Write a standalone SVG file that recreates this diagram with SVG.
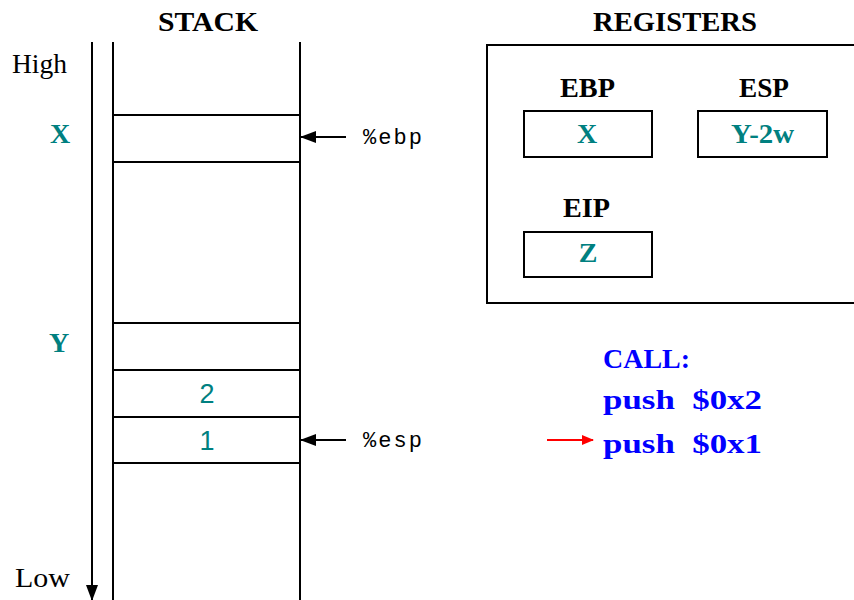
<svg xmlns="http://www.w3.org/2000/svg" width="854" height="600" viewBox="0 0 854 600">
<style>
.ln{stroke:#000;stroke-width:2;fill:none}
.bx{stroke:#000;stroke-width:2;fill:#fff}
.hd{font-family:"Liberation Serif",serif;font-weight:bold;font-size:28px;fill:#000}
.tl{font-family:"Liberation Serif",serif;font-weight:bold;font-size:28px;fill:#008080}
.rg{font-family:"Liberation Serif",serif;font-size:28px;fill:#000}
.num{font-family:"Liberation Sans",sans-serif;font-size:27px;fill:#008080}
.mono{font-family:"Liberation Mono",monospace;font-size:22px;fill:#000}
.code{font-family:"Liberation Serif",serif;font-weight:bold;font-size:28px;fill:#0000ff}
</style>
<defs>
<marker id="ah" markerWidth="16" markerHeight="12" refX="15" refY="6" orient="auto" markerUnits="userSpaceOnUse">
<path d="M0,0 L16,6 L0,12 z" fill="#000"/>
</marker>
<marker id="ahr" markerWidth="12" markerHeight="10" refX="11" refY="5" orient="auto" markerUnits="userSpaceOnUse">
<path d="M0,0 L12,5 L0,10 z" fill="#ff0000"/>
</marker>
</defs>
<rect width="854" height="600" fill="#fff"/>

<g id="stack">
<text class="hd" x="158" y="31" textLength="100" lengthAdjust="spacingAndGlyphs">STACK</text>
<line class="ln" x1="113" y1="42" x2="113" y2="600"/>
<line class="ln" x1="300" y1="42" x2="300" y2="600"/>
<line class="ln" x1="113" y1="115" x2="300" y2="115"/>
<line class="ln" x1="113" y1="162" x2="300" y2="162"/>
<line class="ln" x1="113" y1="323" x2="300" y2="323"/>
<line class="ln" x1="113" y1="370" x2="300" y2="370"/>
<line class="ln" x1="113" y1="417" x2="300" y2="417"/>
<line class="ln" x1="113" y1="463" x2="300" y2="463"/>
<text class="num" x="207" y="403" text-anchor="middle">2</text>
<text class="num" x="207" y="450" text-anchor="middle">1</text>
</g>

<g id="axis">
<text class="rg" x="12" y="73" textLength="55" lengthAdjust="spacingAndGlyphs">High</text>
<text class="rg" x="15" y="587" textLength="55" lengthAdjust="spacingAndGlyphs">Low</text>
<text class="tl" x="60" y="143" text-anchor="middle">X</text>
<text class="tl" x="59" y="352" text-anchor="middle">Y</text>
</g>

<g id="pointers">
<text class="mono" x="363" y="144" textLength="59">%ebp</text>
<text class="mono" x="363" y="447" textLength="59">%esp</text>
</g>

<g id="registers">
<text class="hd" x="593" y="31" textLength="164" lengthAdjust="spacingAndGlyphs">REGISTERS</text>
<rect class="ln" x="487" y="45" width="372" height="258"/>
</g>
<g id="ebp">
<text class="hd" x="560" y="97" textLength="55" lengthAdjust="spacingAndGlyphs">EBP</text>
<rect class="bx" x="524" y="111" width="128" height="46"/>
<text class="tl" x="587" y="143" text-anchor="middle">X</text>
</g>
<g id="esp">
<text class="hd" x="739" y="97" textLength="50" lengthAdjust="spacingAndGlyphs">ESP</text>
<rect class="bx" x="698" y="111" width="129" height="46"/>
<text class="tl" x="731" y="143" textLength="63" lengthAdjust="spacingAndGlyphs">Y-2w</text>
</g>
<g id="eip">
<text class="hd" x="563" y="217" textLength="47" lengthAdjust="spacingAndGlyphs">EIP</text>
<rect class="bx" x="524" y="232" width="128" height="45"/>
<text class="tl" x="588" y="262" text-anchor="middle">Z</text>
</g>

<g id="code">
<text class="code" x="603" y="368" textLength="87" lengthAdjust="spacingAndGlyphs">CALL:</text>
<text class="code" x="603" y="409" textLength="159" lengthAdjust="spacingAndGlyphs" xml:space="preserve">push  $0x2</text>
<text class="code" x="603" y="453" textLength="159" lengthAdjust="spacingAndGlyphs" xml:space="preserve">push  $0x1</text>
</g>

<g id="connectors">
<line class="ln" x1="92" y1="42" x2="92" y2="600" marker-end="url(#ah)"/>
<line class="ln" x1="346" y1="137" x2="301" y2="137" marker-end="url(#ah)"/>
<line class="ln" x1="346" y1="440" x2="301" y2="440" marker-end="url(#ah)"/>
<line x1="547" y1="440" x2="593" y2="440" stroke="#ff0000" stroke-width="2" marker-end="url(#ahr)"/>
</g>
</svg>
